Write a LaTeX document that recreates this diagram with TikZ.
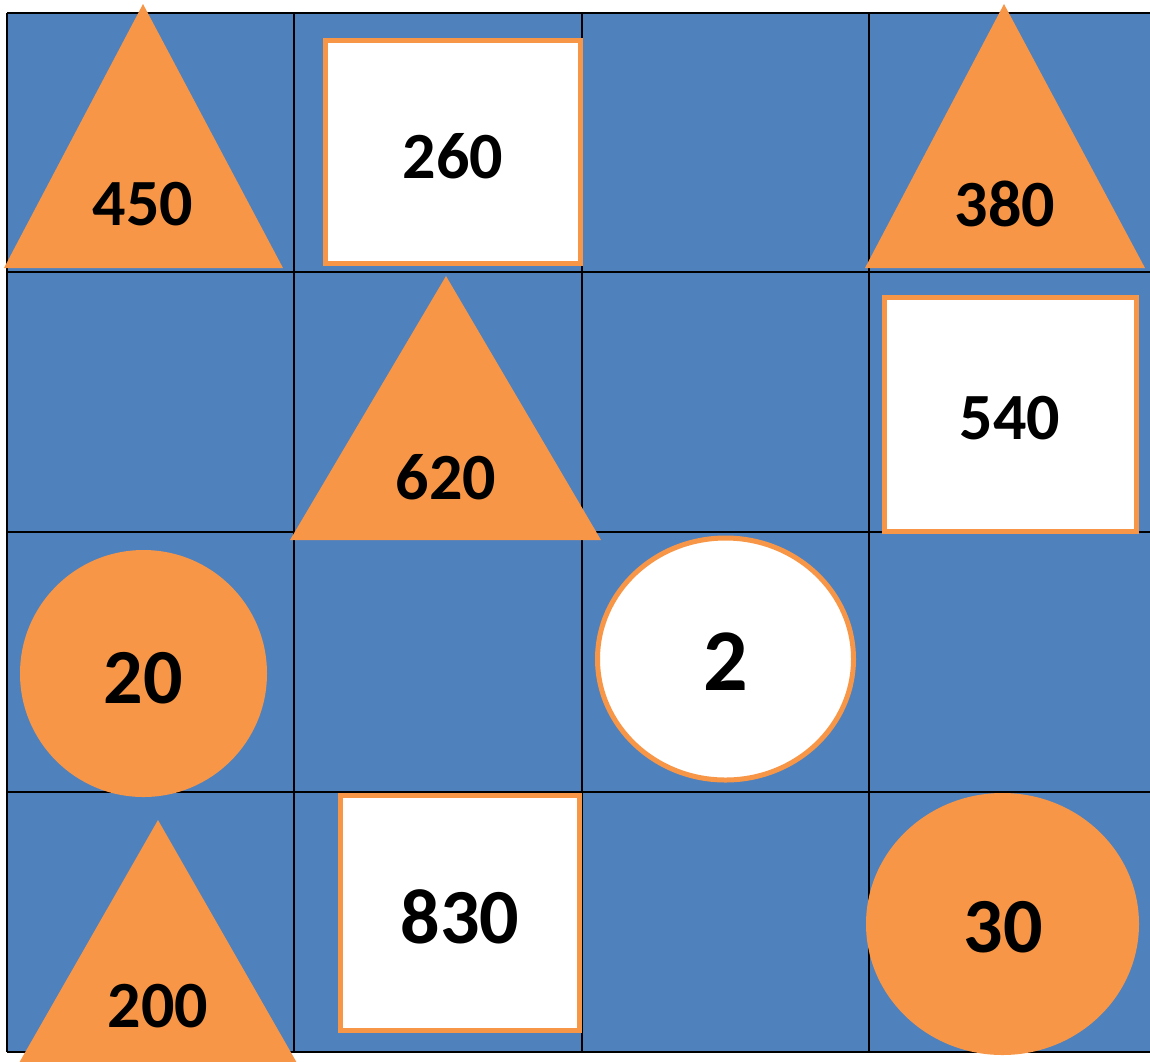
\documentclass[tikz,border=0pt]{standalone}
\usepackage{fontspec}
\setmainfont{Carlito}
\definecolor{boardblue}{RGB}{79,129,189}
\definecolor{tileorange}{RGB}{247,150,70}

\begin{document}
\begin{tikzpicture}[x=1pt,y=-1pt,
  gridline/.style={black,line width=2.5pt},
  solidtile/.style={fill=tileorange},
  opentile/.style={fill=white,draw=tileorange,line width=5pt},
  numlabel/.style={inner sep=0pt,font=\bfseries\fontsize{66}{70}\selectfont},
  biglabel/.style={inner sep=0pt,font=\bfseries\fontsize{78}{82}\selectfont}]
\useasboundingbox (0,0) rectangle (1150,1061);
\clip (0,0) rectangle (1150,1061);
% board
\fill[boardblue] (7,13) rectangle (1150,1052);
\foreach \x in {7,294,582,869}
  \draw[gridline] (\x,13) -- (\x,1052);
\foreach \y in {13,272,532,792,1052}
  \draw[gridline] (7,\y) -- (1150,\y);
% row 1
\fill[solidtile] (143,4) -- (283,268) -- (4,268) -- cycle;
\node[numlabel] (t450) at (143,204) {450};
\filldraw[opentile] (325.5,40.5) rectangle (580.5,263.5);
\node[numlabel] (s260) at (453,156) {260};
\fill[solidtile] (1004,4) -- (1145,268) -- (865,268) -- cycle;
\node[numlabel] (t380) at (1005,204) {380};
% row 2
\fill[solidtile] (446,276) -- (601,540) -- (290,540) -- cycle;
\node[numlabel] (t620) at (446,477) {620};
\filldraw[opentile] (884.5,297.5) rectangle (1136.5,531.5);
\node[numlabel] (s540) at (1010,418) {540};
% row 3
\fill[solidtile] (143.5,673.5) ellipse [x radius=123.5,y radius=123.5];
\node[biglabel] (c20) at (143,678) {20};
\filldraw[opentile] (725.5,659) ellipse [x radius=128,y radius=121];
\node[inner sep=0pt,font=\bfseries\fontsize{88}{92}\selectfont] (e2) at (726,662) {2};
% row 4
\fill[solidtile] (158,820) -- (309,1084) -- (7,1084) -- cycle;
\node[numlabel] (t200) at (158,1006) {200};
\filldraw[opentile] (340.5,795.5) rectangle (579.5,1030.5);
\node[biglabel] (s830) at (460,917) {830};
\fill[solidtile] (1002.5,924) ellipse [x radius=136.5,y radius=131];
\node[biglabel] (c30) at (1003,927) {30};
\end{tikzpicture}
\end{document}
